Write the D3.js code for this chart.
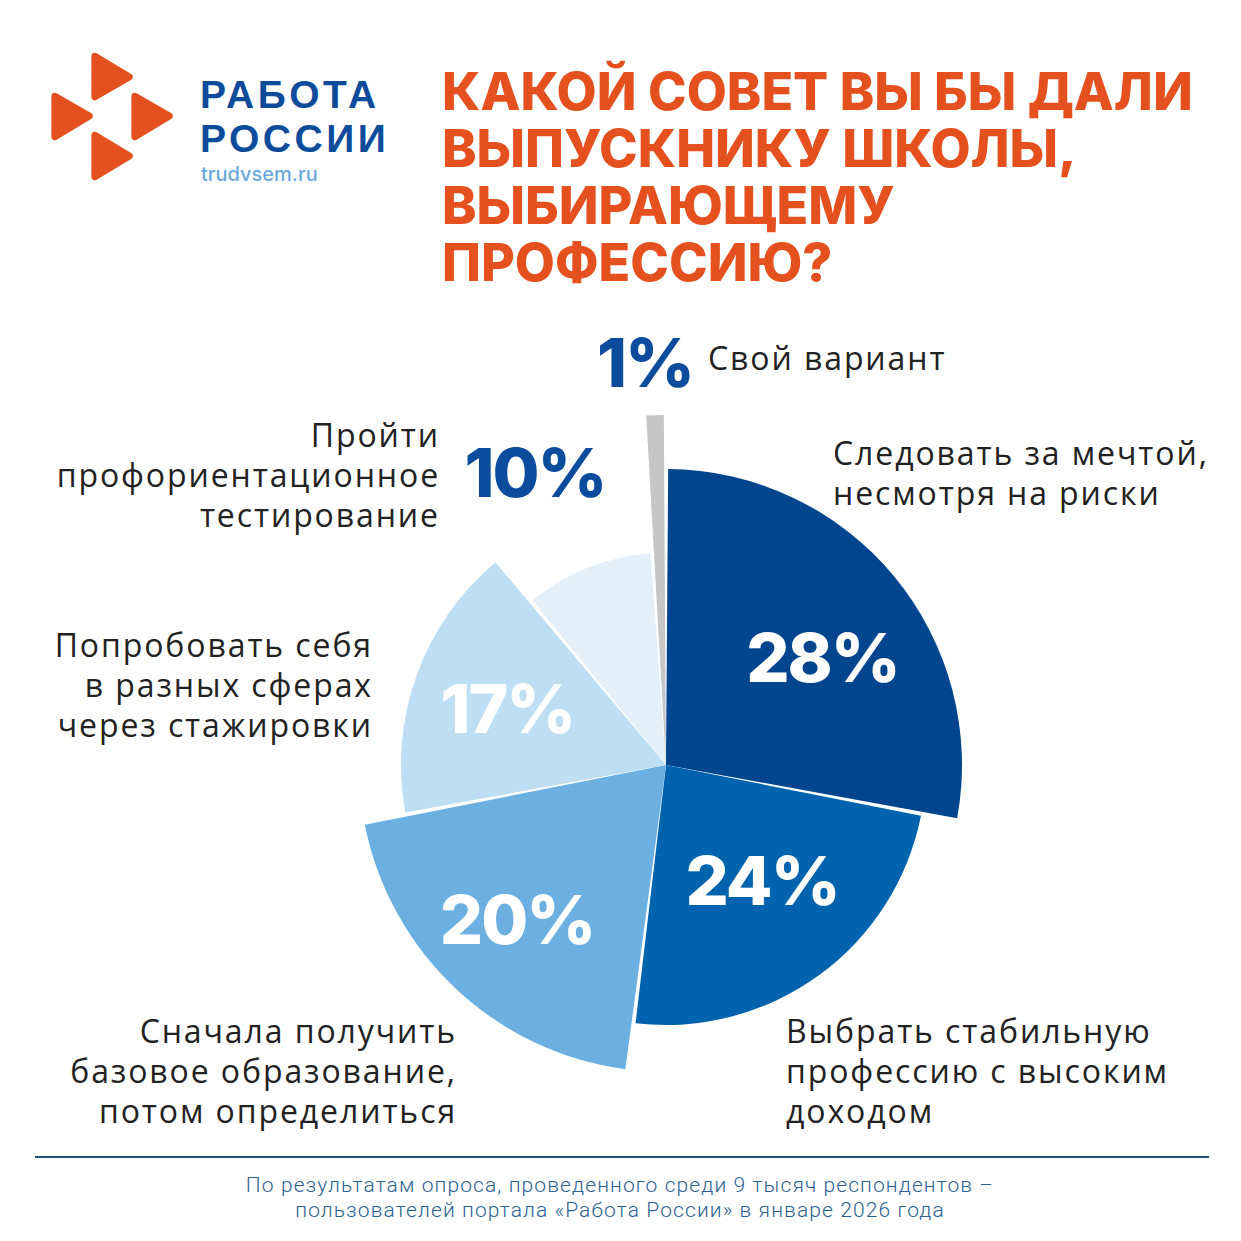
<html>
<head>
<meta charset="utf-8">
<script src="https://cdnjs.cloudflare.com/ajax/libs/d3/7.8.5/d3.min.js"></script>
<style>
  body { margin: 0; background: #fff; }
  text { font-family: "Open Sans", sans-serif; }
</style>
</head>
<body>
<svg id="chart" width="1241" height="1241"></svg>
<script>
var answers = [
  ["Следовать за мечтой,", "несмотря на риски"],
  ["Выбрать стабильную", "профессию с высоким", "доходом"],
  ["Сначала получить", "базовое образование,", "потом определиться"],
  ["Попробовать себя", "в разных сферах", "через стажировки"],
  ["Пройти", "профориентационное", "тестирование"],
  ["Свой вариант"]
]
var shares = [28, 24, 20, 17, 10, 1]
var titleLines = ["КАКОЙ СОВЕТ ВЫ БЫ ДАЛИ", "ВЫПУСКНИКУ ШКОЛЫ,", "ВЫБИРАЮЩЕМУ", "ПРОФЕССИЮ?"]
var brandLines = ["РАБОТА", "РОССИИ"]
var brandSite = "trudvsem.ru"
var footerLines = [
  "По результатам опроса, проведенного среди 9 тысяч респондентов –",
  "пользователей портала «Работа России» в январе 2026 года"
]

// --- layout / style ---
var colors = ["#01458f", "#0063ad", "#6cb0e2", "#bedef3", "#e3f0fa", "#c6c6c6"]
var outerR = [296, 260, 307, 265, 212, 350]
var cx = 666, cy = 765
var orange = "#e4501e", navy = "#0b4c9c", ink = "#222222"

var svg = d3.select("#chart")

// logo: four rounded triangles
var tris = [
  [[93, 53], [133, 77], [93, 100]],
  [[53, 93], [93, 116], [53, 140]],
  [[133, 93], [173, 116], [133, 140]],
  [[93, 132], [133, 156], [93, 180]]
]
svg.append("g").selectAll("path").data(tris).join("path")
  .attr("d", t => {
    // shrink toward centroid so the rounded stroke keeps the size
    var gx = (t[0][0] + t[1][0] + t[2][0]) / 3, gy = (t[0][1] + t[1][1] + t[2][1]) / 3
    return "M" + t.map(p => [gx + (p[0] - gx) * 0.86, gy + (p[1] - gy) * 0.86]).join("L") + "Z"
  })
  .attr("fill", orange).attr("stroke", orange)
  .attr("stroke-width", 7).attr("stroke-linejoin", "round")

svg.append("text")
  .style("font-family", "'Liberation Sans', sans-serif")
  .attr("font-size", 39).attr("font-weight", 700)
  .attr("letter-spacing", 3.5)
  .attr("fill", "#0d4c9b")
  .selectAll("tspan").data(brandLines).join("tspan")
  .attr("x", 200).attr("y", (d, i) => 108 + i * 44)
  .text(d => d)
svg.append("text").attr("x", 201).attr("y", 181)
  .style("font-family", "Inter, sans-serif")
  .attr("font-size", 20).attr("font-weight", 500)
  .attr("fill", "#6aa8dc").text(brandSite)

// title
svg.append("text")
  .style("font-family", "Inter, sans-serif")
  .attr("font-size", 52).attr("font-weight", 800)
  .attr("fill", orange)
  .selectAll("tspan").data(titleLines).join("tspan")
  .attr("x", 442).attr("y", (d, i) => 110 + i * 57)
  .text(d => d)

// pie with per-slice radius
var pie = d3.pie().sort(null).value(d => d)
var arcs = pie(shares)
var arc = d3.arc().innerRadius(0).padAngle(0.015).padRadius(290)

var g = svg.append("g").attr("transform", "translate(" + cx + "," + cy + ")")
g.selectAll("path").data(arcs).join("path")
  .attr("d", (d, i) => arc.outerRadius(outerR[i])(d))
  .attr("fill", (d, i) => colors[i])

// percent values: inside ones sit near the slice middle (radius factor, angle nudge in degrees)
var inside = [[0.64, 5.3], [0.58, -3.6], [0.70, 0.7], [0.635, -0.3]]
var outsidePos = { 4: [535, 497], 5: [645, 387] }
arcs.forEach((d, i) => {
  var x, y, fill
  if (i < 4) {
    var a = (d.startAngle + d.endAngle) / 2 + inside[i][1] * Math.PI / 180
    var r = outerR[i] * inside[i][0]
    x = cx + Math.sin(a) * r
    y = cy - Math.cos(a) * r + 24
    fill = "#fff"
  } else {
    x = outsidePos[i][0]; y = outsidePos[i][1]; fill = navy
  }
  svg.append("text").attr("x", x).attr("y", y)
    .attr("text-anchor", "middle")
    .style("font-family", "Inter, sans-serif")
    .attr("font-size", 68).attr("font-weight", 800)
    .attr("letter-spacing", -2)
    .attr("fill", fill)
    .text(shares[i] + "%")
})

// category labels
var labelPos = [
  { x: 833, y: 465, anchor: "start" },
  { x: 786, y: 1043, anchor: "start" },
  { x: 455, y: 1043, anchor: "end" },
  { x: 371, y: 657, anchor: "end" },
  { x: 438, y: 447, anchor: "end" },
  { x: 708, y: 370, anchor: "start" }
]
answers.forEach((lines, i) => {
  var p = labelPos[i]
  svg.append("text")
    .attr("text-anchor", p.anchor)
    .attr("font-size", 32).attr("fill", ink)
    .attr("letter-spacing", 1.9)
    .selectAll("tspan").data(lines).join("tspan")
    .attr("x", p.anchor == "end" ? p.x + 2 : p.x).attr("y", (d, k) => p.y + k * 40)
    .text(d => d)
})

// footer
svg.append("line").attr("x1", 35).attr("x2", 1209).attr("y1", 1157).attr("y2", 1157)
  .attr("stroke", "#1d527f").attr("stroke-width", 2)
svg.append("text")
  .attr("text-anchor", "middle")
  .style("font-family", "Roboto, sans-serif")
  .attr("font-size", 21).attr("font-weight", 300)
  .attr("letter-spacing", 1.1)
  .attr("fill", "#2d5f91")
  .selectAll("tspan").data(footerLines).join("tspan")
  .attr("x", 620).attr("y", (d, i) => 1192 + i * 25)
  .text(d => d)
</script>
</body>
</html>
